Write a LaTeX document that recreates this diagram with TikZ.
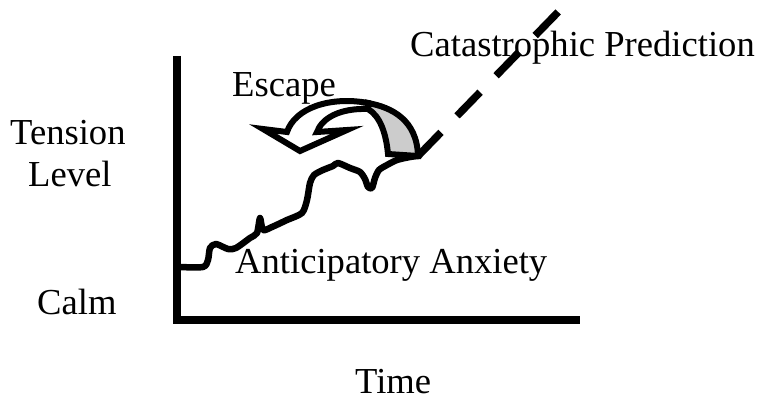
\documentclass[tikz,border=0pt]{standalone}
\usepackage{fontspec}
\setmainfont{Liberation Serif}
\begin{document}
\begin{tikzpicture}[x=1pt,y=-1pt,
  lbl/.style={font=\fontsize{36.6}{42}\selectfont, inner sep=0pt, anchor=base west},
  axisline/.style={line width=8pt, line join=miter},
  wave/.style={line width=6.5pt, line join=round, line cap=round},
  escpart/.style={line width=6pt, line join=miter},
  dashline/.style={line width=7.5pt, dash pattern=on 33pt off 23pt}]
\useasboundingbox (0,0) rectangle (764,406);

% labels
\node[lbl] (tension) at (10,145) {Tension};
\node[lbl] (level) at (28,187) {Level};
\node[lbl] (calm) at (37,315) {Calm};
\node[lbl] (time) at (355,394) {Time};
\node[lbl] (escape) at (232,97) {Escape};
\node[lbl] (antic) at (235,274) {Anticipatory Anxiety};
\node[lbl] (catas) at (410,57) {Catastrophic Prediction};

% axes
\coordinate (ytop) at (177,56);
\coordinate (origin) at (177,320);
\coordinate (xend) at (580,320);
\draw[axisline] (ytop) -- (origin) -- (xend);

% anxiety curve
\coordinate (wstart) at (179,267);
\coordinate (foot) at (418,156);
\draw[wave] plot[smooth, tension=0.45] coordinates {
 (179,267) (203,267) (208,260) (210,248) (216,244) (228,249) (236,248)
 (250,238) (257,233) (260,218) (263,230) (272,227) (287,220) (302,213)
 (307,200) (310,183) (314,175) (323,170) (333,166) (338,163) (350,168)
 (360,172) (365,179) (368,187) (372,188) (375,178) (379,170) (387,165)
 (397,160) (410,157) (418,156)};

% dashed prediction line
\coordinate (dtop) at (562,8);
\draw[dashline] (foot) -- (dtop);

% escape arrow: shaded back part
\draw[escpart, fill=black!20]
  (368,103) .. controls (392,107.4) and (417,120) .. (418,156)
  -- (388,154) .. controls (386,133) and (380,116) .. (368,109) -- cycle;
% escape arrow: front band with head
\draw[escpart, fill=white]
  (287,132) .. controls (295,108) and (330,96) .. (368,103)
  -- (368,109) .. controls (340,108) and (322,118) .. (317,132)
  -- (347,130) -- (300,151) -- (263,129) -- cycle;
\end{tikzpicture}
\end{document}
